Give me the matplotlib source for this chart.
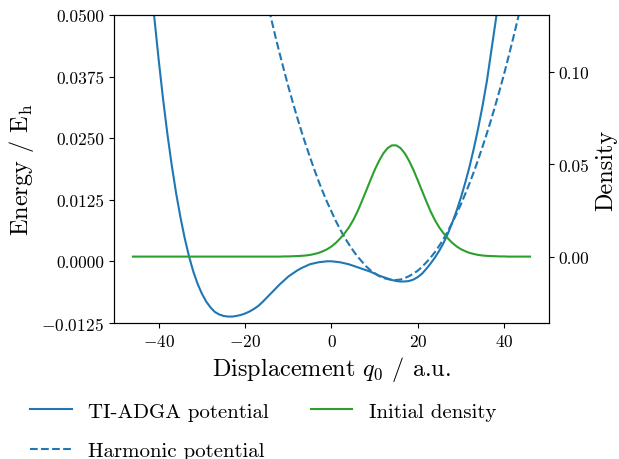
import matplotlib
matplotlib.use("Agg")
import matplotlib.pyplot as plt
import numpy as np

plt.rcParams['font.family'] = 'serif'
plt.rcParams['font.serif'] = ['cmr10']
plt.rcParams['mathtext.fontset'] = 'cm'
plt.rcParams['axes.formatter.use_mathtext'] = True

# displacement grid (a.u.)
q = np.arange(-46, 47)

# TI-ADGA potential (E_h)
adga = [0.102, 0.0901, 0.0787, 0.0682, 0.0583, 0.0492, 0.0407, 0.0329, 0.0258, 0.0195,
        0.0139, 0.0090, 0.0047, 0.0010, -0.0021, -0.0046, -0.0066, -0.0082, -0.0094, -0.0103,
        -0.0108, -0.0111, -0.01122, -0.01123, -0.0111, -0.0109, -0.0106, -0.0102, -0.0097, -0.0091,
        -0.0083, -0.0074, -0.0065, -0.0056, -0.0047, -0.0039, -0.0031, -0.0025, -0.0019, -0.0014,
        -0.0010, -0.0006, -0.0004, -0.0002, -0.0001, 0.0000, 0.0000, -0.0001, -0.0002, -0.0004,
        -0.0006, -0.0009, -0.0012, -0.0015, -0.0018, -0.0021, -0.0025, -0.0029, -0.0032, -0.0035,
        -0.0038, -0.0040, -0.0041, -0.0041, -0.0040, -0.0037, -0.0032, -0.0025, -0.0015, -0.0004,
        0.0008, 0.0022, 0.0038, 0.0057, 0.0079, 0.0103, 0.0130, 0.0160, 0.0193, 0.0230,
        0.0271, 0.0316, 0.0366, 0.0426, 0.0486, 0.0550, 0.0617, 0.0688, 0.0763, 0.0842,
        0.0925, 0.1012, 0.1103]

# harmonic potential, only where it is inside the frame (q = -16 ... 46)
q_harm = np.arange(-16, 47)
harm = [0.0571, 0.0532, 0.0494, 0.0457, 0.0422, 0.0388, 0.0355, 0.0324, 0.0294, 0.0265,
        0.0238, 0.0212, 0.0187, 0.0163, 0.0141, 0.0120, 0.0101, 0.0082, 0.0065, 0.0049,
        0.0035, 0.0022, 0.0010, 0.0000, -0.0010, -0.0018, -0.0024, -0.0030, -0.0034, -0.0036,
        -0.0038, -0.0038, -0.0037, -0.0034, -0.0030, -0.0025, -0.0019, -0.0011, -0.0002, 0.0008,
        0.0019, 0.0032, 0.0046, 0.0062, 0.0079, 0.0097, 0.0116, 0.0137, 0.0159, 0.0182,
        0.0207, 0.0233, 0.0260, 0.0288, 0.0318, 0.0349, 0.0381, 0.0415, 0.0450, 0.0486,
        0.0524, 0.0563, 0.0603]

# initial density
dens = [0.0] * 35 + [
        0.0001, 0.0001, 0.0002, 0.0003, 0.0004, 0.0006, 0.0009, 0.0014, 0.0020, 0.0029,
        0.0040, 0.0055, 0.0074, 0.0098, 0.0125, 0.0157, 0.0196, 0.0243, 0.0298, 0.0355,
        0.0413, 0.0469, 0.0518, 0.0559, 0.0588, 0.0603, 0.0603, 0.0588, 0.0559, 0.0518,
        0.0469, 0.0413, 0.0355, 0.0298, 0.0243, 0.0196, 0.0157, 0.0125, 0.0098, 0.0074,
        0.0055, 0.0040, 0.0029, 0.0020, 0.0014, 0.0009, 0.0006, 0.0004, 0.0003, 0.0002,
        0.0001, 0.0001] + [0.0] * 6

energy_ticks = [-0.0125, 0.0, 0.0125, 0.025, 0.0375, 0.05]
density_ticks = [0.0, 0.05, 0.10]

fig, ax = plt.subplots(figsize=(6.19, 4.6), dpi=100)
fig.subplots_adjust(left=0.184, right=0.887, top=0.965, bottom=0.296)

l1, = ax.plot(q, adga, color='C0', label='TI-ADGA potential')
l2, = ax.plot(q_harm, harm, color='C0', ls='--', label='Harmonic potential')
ax.set_xlim(-50.4, 50.4)
ax.set_ylim(-0.0125, 0.05)
ax.set_yticks(energy_ticks)
ax.set_yticklabels(['%.4f' % v if v >= 0 else r'$-$%.4f' % -v for v in energy_ticks])
ax.tick_params(labelsize=12.5)
ax.set_xlabel(r'Displacement $q_0$ / a.u.', fontsize=17.5)
ax.set_ylabel(r'Energy / $\mathrm{E_h}$', fontsize=17.5)

ax2 = ax.twinx()
l3, = ax2.plot(q, dens, color='C2', label='Initial density')
ax2.set_ylim(-0.0359, 0.1309)
ax2.set_yticks(density_ticks)
ax2.set_yticklabels(['%.2f' % v for v in density_ticks])
ax2.tick_params(labelsize=12.5)
ax2.set_ylabel('Density', fontsize=17.5)

fig.legend(handles=[l1, l2, l3], loc='upper left', bbox_to_anchor=(0.035, 0.142),
           borderaxespad=0, ncol=2, frameon=False, fontsize=15, columnspacing=2.0,
           labelspacing=1.0)

fig.savefig('out.png', dpi=100)
